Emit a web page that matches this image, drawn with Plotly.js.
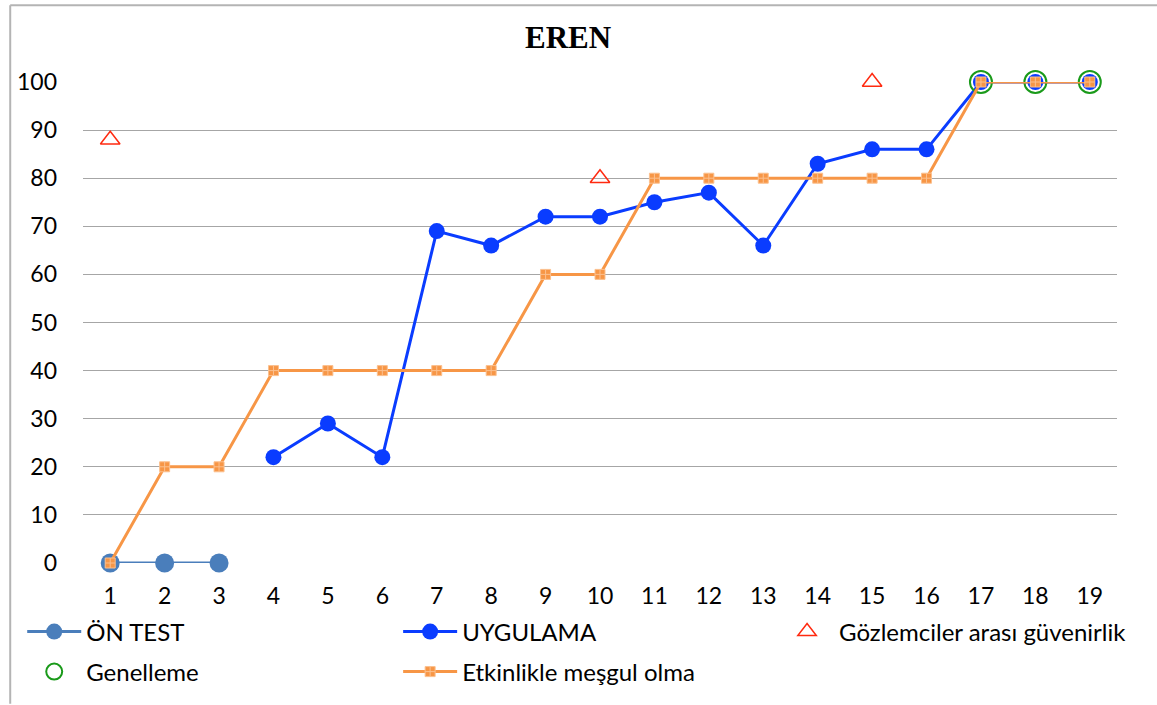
<!DOCTYPE html>
<html>
<head>
<meta charset="utf-8">
<script src="https://cdn.plot.ly/plotly-3.0.1.min.js"></script>
<style>html,body{margin:0;padding:0;background:#fff;}#chart{width:1157px;height:705px;}</style>
</head>
<body>
<div id="chart"></div>
<script>
var sessions = [1,2,3,4,5,6,7,8,9,10,11,12,13,14,15,16,17,18,19];
var onTest    = [0,0,0,null,null,null,null,null,null,null,null,null,null,null,null,null,null,null,null];
var uygulama  = [null,null,null,22,29,22,69,66,72,72,75,77,66,83,86,86,100,100,100];
var guvenirlik= [88,null,null,null,null,null,null,null,null,80,null,null,null,null,100,null,null,null,null];
var genelleme = [null,null,null,null,null,null,null,null,null,null,null,null,null,null,null,null,100,100,100];
var etkinlik  = [0,20,20,40,40,40,40,40,60,60,80,80,80,80,80,80,100,100,100];
var yTicks = [0,10,20,30,40,50,60,70,80,90,100];

var W = 1157, H = 705, L = 82.8, R = 40, T = 82, B = 141;
var pw = W - L - R, ph = H - T - B;
function px(x){ return (x - L) / pw; }
function py(y){ return (H - B - y) / ph; }

var font = 'Lato, "Open Sans", sans-serif';

var traces = [
  {x: sessions, y: onTest, name: 'ÖN TEST', mode: 'lines+markers', legend: 'legend', cliponaxis: false,
   line: {color: '#4a7ebb', width: 3}, marker: {color: '#4a7ebb', size: 19, symbol: 'circle'}},
  {x: sessions, y: uygulama, name: 'UYGULAMA', mode: 'lines+markers', legend: 'legend2', cliponaxis: false,
   line: {color: '#0a3cff', width: 3}, marker: {color: '#0a3cff', size: 16, symbol: 'circle'}},
  {x: sessions, y: guvenirlik, name: 'Gözlemciler arası güvenirlik', mode: 'markers', legend: 'legend3', cliponaxis: false,
   marker: {color: '#ff2a10', size: 17, symbol: 'triangle-up-open', line: {width: 1.5}}},
  {x: sessions, y: genelleme, name: 'Genelleme', mode: 'markers', legend: 'legend4', cliponaxis: false,
   marker: {color: '#1a9a1a', size: 22, symbol: 'circle-open', line: {width: 2}}},
  {x: sessions, y: etkinlik, name: 'Etkinlikle meşgul olma', mode: 'lines+markers', legend: 'legend5', cliponaxis: false,
   line: {color: '#f79646', width: 3}, marker: {color: '#f79646', size: 10, symbol: 'square-cross', line: {color: '#fbc08f', width: 1}}}
];

function leg(x, y){
  return {x: px(x), y: py(y), xanchor: 'left', yanchor: 'middle', orientation: 'v',
          bgcolor: 'rgba(0,0,0,0)', borderwidth: 0, itemwidth: 54,
          font: {family: font, size: 24, color: '#000'}};
}

var layout = {
  width: W, height: H,
  margin: {l: L, r: R, t: T, b: B, pad: 0},
  paper_bgcolor: '#fff', plot_bgcolor: '#fff',
  title: {text: 'EREN', font: {family: '"Liberation Serif", "Times New Roman", serif', size: 31, color: '#000', weight: 'bold'},
          x: px(568), xref: 'paper', xanchor: 'center', y: 1 - 37 / H, yanchor: 'middle'},
  font: {family: font, size: 23, color: '#000'},
  xaxis: {range: [0.5, 19.5], tickvals: sessions, ticktext: sessions.map(String), showgrid: false, zeroline: false,
          showline: false, ticks: '', ticklabelstandoff: 17, tickfont: {family: font, size: 23, color: '#000'}, fixedrange: true},
  yaxis: {range: [0, 100], tickvals: yTicks, showgrid: true, gridcolor: '#a6a6a6', gridwidth: 1, zeroline: false,
          showline: false, ticks: '', ticklabelstandoff: 25, tickfont: {family: font, size: 23, color: '#000'}, fixedrange: true},
  showlegend: true,
  legend: leg(22, 632),
  legend4: leg(22, 672),
  legend2: leg(398, 632),
  legend5: leg(398, 672),
  legend3: leg(775, 632),
  shapes: [
    {type: 'line', xref: 'paper', yref: 'paper', x0: px(10), x1: px(10), y0: py(705), y1: py(5), line: {color: '#b4b4b4', width: 2}},
    {type: 'line', xref: 'paper', yref: 'paper', x0: px(10), x1: px(1157), y0: py(5), y1: py(5), line: {color: '#b4b4b4', width: 2}}
  ]
};

Plotly.newPlot('chart', traces, layout, {displayModeBar: false, responsive: false});
</script>
</body>
</html>
